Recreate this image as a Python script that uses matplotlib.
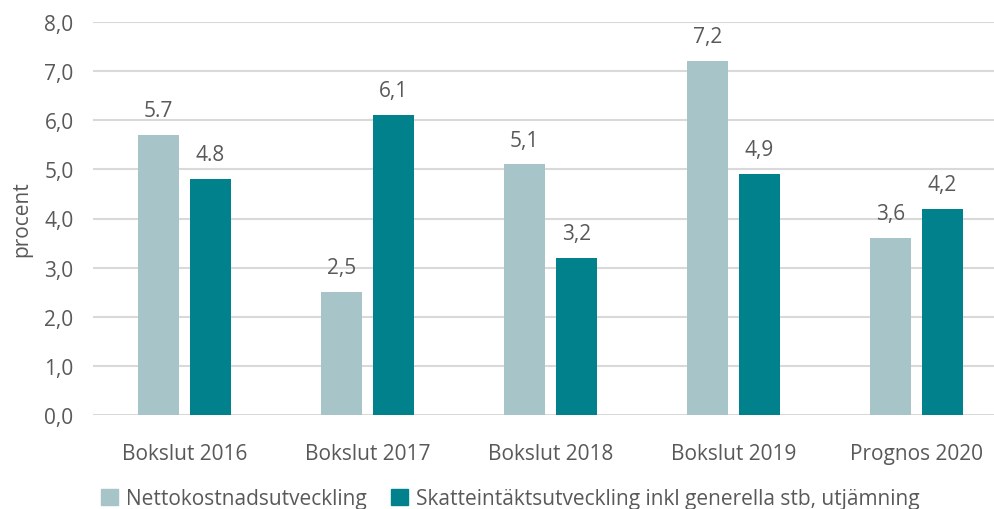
import matplotlib
matplotlib.use("Agg")
import matplotlib.pyplot as plt
import numpy as np
from matplotlib.patches import Patch

categories = ["Bokslut 2016", "Bokslut 2017", "Bokslut 2018", "Bokslut 2019", "Prognos 2020"]
netto = [5.7, 2.5, 5.1, 7.2, 3.6]
skatt = [4.8, 6.1, 3.2, 4.9, 4.2]
netto_labels = ["5.7", "2,5", "5,1", "7,2", "3,6"]
skatt_labels = ["4.8", "6,1", "3,2", "4,9", "4,2"]
series_names = ["Nettokostnadsutveckling", "Skatteintäktsutveckling inkl generella stb, utjämning"]
yticks = [0, 1, 2, 3, 4, 5, 6, 7, 8]
ytick_labels = ["0,0", "1,0", "2,0", "3,0", "4,0", "5,0", "6,0", "7,0", "8,0"]

plt.rcParams['font.family'] = ['Open Sans', 'DejaVu Sans']
TXT = "#595959"
C1 = "#A7C4C9"
C2 = "#00818C"
FS = 15

fig = plt.figure(figsize=(9.94, 5.10), dpi=100)
ax = fig.add_axes([93/994, 94/510, 915/994, 393/510])

x = np.arange(len(categories))
w = 0.224
off = 0.142
b1 = ax.bar(x - off, netto, w, color=C1, zorder=3)
b2 = ax.bar(x + off, skatt, w, color=C2, zorder=3)

for bars, labels in ((b1, netto_labels), (b2, skatt_labels)):
    for rect, lab in zip(bars, labels):
        ax.annotate(lab, (rect.get_x() + rect.get_width()/2, rect.get_height()),
                    xytext=(0, 10), textcoords="offset points", ha="center", va="bottom",
                    fontsize=FS, color=TXT)

ax.set_xlim(-0.5, len(categories) - 0.5)
ax.set_ylim(0, 8)
ax.set_yticks(yticks)
ax.set_yticklabels(ytick_labels, fontsize=FS, color=TXT)
ax.set_xticks(x)
ax.set_xticklabels(categories, fontsize=FS, color=TXT)
ax.tick_params(axis='both', length=0)
ax.tick_params(axis='x', pad=20)
ax.tick_params(axis='y', pad=14)
ax.grid(axis='y', color="#D9D9D9", linewidth=1.5, zorder=0)
for s in ax.spines.values():
    s.set_visible(False)
ax.set_ylabel("procent", fontsize=15, color=TXT, labelpad=9)

handles = [Patch(color=C1), Patch(color=C2)]
fig.legend(handles, series_names, loc="center left", bbox_to_anchor=(101/994, 10/510),
           ncol=2, frameon=False, fontsize=FS, handlelength=0.8, handleheight=0.8,
           handletextpad=0.38, columnspacing=1.2, labelcolor=TXT, borderpad=0, borderaxespad=0)

fig.savefig("out.png", dpi=100)
